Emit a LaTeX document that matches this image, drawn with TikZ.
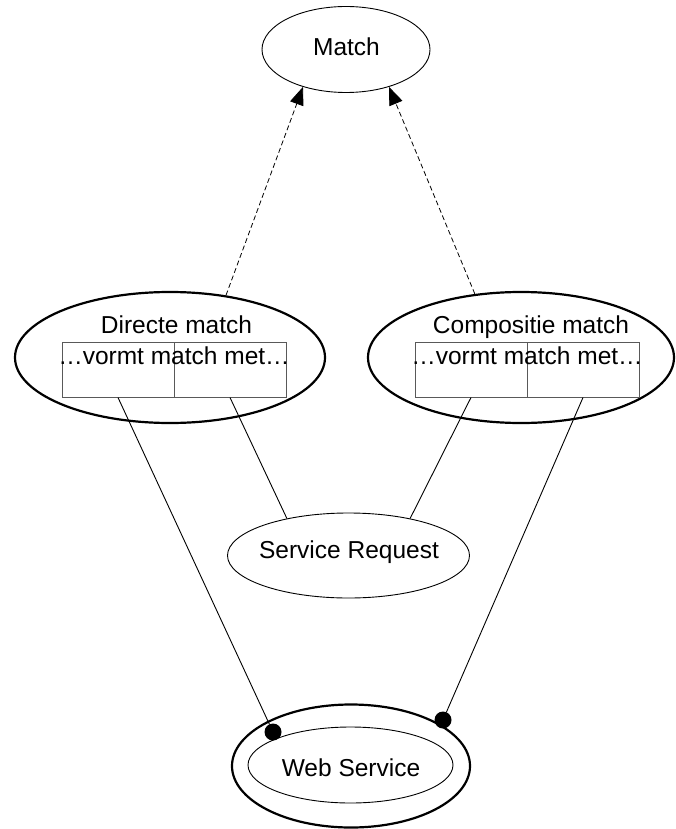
\documentclass[tikz,border=0pt]{standalone}
\usepackage{fontspec}
\setmainfont{Liberation Sans}
\usetikzlibrary{shapes.geometric,arrows.meta}
\begin{document}
\begin{tikzpicture}[x=1pt,y=-1pt,
  thinoval/.style={draw,ellipse,inner sep=0pt,line width=0.9pt},
  thickoval/.style={draw,ellipse,inner sep=0pt,line width=2.2pt},
  cell/.style={draw=black!65,rectangle,line width=1pt,inner sep=0pt,minimum width=112,minimum height=55},
  lbl/.style={anchor=base,inner sep=0pt,font=\fontsize{24.5}{28}\selectfont},
  dotnode/.style={circle,fill=black,inner sep=0pt,minimum size=17},
  conn/.style={line width=0.9pt},
  dep/.style={line width=0.8pt,dash pattern=on 5pt off 3pt,-{Triangle[length=18,width=14]}}]
\useasboundingbox (0,0) rectangle (675,829);
% Match
\node[thinoval,minimum width=168,minimum height=86] (match) at (346,49.5) {};
\node[lbl] (matchlbl) at (346.5,56) {Match};
% Directe match
\node[thickoval,minimum width=310,minimum height=131] (dm) at (170,357.5) {};
\node[lbl] (dmlbl) at (176.5,333) {Directe match};
\node[cell] (dl) at (118,369.5) {};
\node[cell] (dr) at (230,369.5) {};
\node[lbl] (dmtxt) at (174,364) {…vormt match met…};
% Compositie match
\node[thickoval,minimum width=306,minimum height=131] (cm) at (521,357.5) {};
\node[lbl] (cmlbl) at (531,333) {Compositie match};
\node[cell] (cl) at (471,369.5) {};
\node[cell] (cr) at (583,369.5) {};
\node[lbl] (cmtxt) at (527,364) {…vormt match met…};
% Service Request
\node[thinoval,minimum width=242,minimum height=85] (sr) at (348.5,555.5) {};
\node[lbl] (srlbl) at (349,558) {Service Request};
% Web Service
\node[thickoval,minimum width=238,minimum height=123] (wso) at (351,766) {};
\node[thinoval,minimum width=205,minimum height=76] (wsi) at (350.5,765) {};
\node[lbl] (wslbl) at (351,776) {Web Service};
% dots
\node[dotnode] (dotl) at (273,732) {};
\node[dotnode] (dotr) at (443,720) {};
% connectors
\draw[dep] (dm.48) -- (match.221);
\draw[dep] (cm.126) -- (match.319);
\draw[conn] (dl.south) -- (dotl);
\draw[conn] (dr.south) -- (sr.149);
\draw[conn] (cl.south) -- (sr.31);
\draw[conn] (cr.south) -- (dotr);
\end{tikzpicture}
\end{document}
